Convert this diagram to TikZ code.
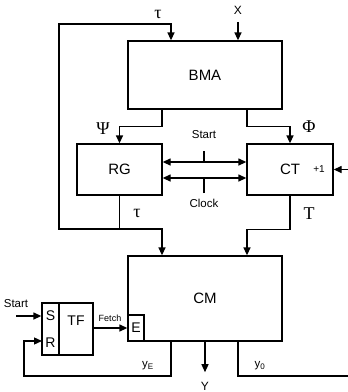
\documentclass[tikz,border=0pt]{standalone}
\usepackage{fontspec}
\setmainfont{Liberation Sans}
\newfontfamily\grk{Liberation Serif}
\usetikzlibrary{arrows.meta}

\begin{document}
\begin{tikzpicture}[x=1pt, y=-1pt, >={Triangle[length=8pt,width=7pt]}, line width=1.3pt,
      blk/.style={draw, inner sep=0pt, font=\fontsize{15}{17}\selectfont},
      lbl/.style={inner sep=1pt, font=\fontsize{11.5}{13}\selectfont},
      gk/.style={inner sep=1pt, font=\grk\fontsize{18}{20}\selectfont}]
  \useasboundingbox (0,0) rectangle (348,392);
  \node[blk, minimum width=154pt, minimum height=68pt] (bma) at (205,75)    {BMA};
  \node[blk, minimum width=85pt,  minimum height=51pt] (rg)  at (119.5,169.5) {RG};
  \node[blk, minimum width=86pt,  minimum height=51pt] (ct)  at (290,169.5) {CT};
  \node[blk, minimum width=154pt, minimum height=85pt] (cm)  at (205,298.5) {CM};
  \node[blk, font=\fontsize{14}{16}\selectfont, minimum width=16pt, minimum height=26pt] (e) at (136,328) {E};
  \node[blk, minimum width=17pt,  minimum height=52pt] (sr)  at (50.5,329)  {};
  \node[blk, minimum width=34pt,  minimum height=52pt] (tf)  at (76,329)    {};
  \node[inner sep=0pt, font=\fontsize{14}{16}\selectfont] (lblS)  at (50.5,316) {S};
  \node[inner sep=0pt, font=\fontsize{14}{16}\selectfont] (lblR)  at (50.5,343) {R};
  \node[inner sep=0pt, font=\fontsize{14}{16}\selectfont] (lblTF) at (76,321)   {TF};
  % labels
  \node[gk] (tauA) at (158,14)  {τ};
  \node[lbl, font=\fontsize{12}{13}\selectfont] (lblX) at (238,10) {X};
  \node[gk] (psi)  at (103,129) {Ψ};
  \node[gk] (phi)  at (309,127) {Φ};
  \node[lbl] (lblStart) at (204,135) {Start};
  \node[lbl] (lblClock) at (204,203) {Clock};
  \node[lbl, font=\fontsize{10}{11}\selectfont] (inc) at (319,169) {+1};
  \node[gk] (tauB) at (137,213) {τ};
  \node[gk] (bigT) at (309,214) {T};
  \node[lbl] (lblStart2) at (16,304) {Start};
  \node[lbl, font=\fontsize{9}{10}\selectfont] (lblFetch) at (110,318) {Fetch};
  \node[lbl] (lblyE) at (148,366) {y\textsubscript{E}};
  \node[lbl] (lblyO) at (260,366) {y\textsubscript{0}};
  \node[lbl, font=\fontsize{12}{13}\selectfont] (lblY) at (205,386) {Y};
  \coordinate (loopL) at (59,24);
  \coordinate (jt)    at (119.5,229);
  \coordinate (stA)   at (204,151);
  \coordinate (ckA)   at (204,193);
  \coordinate (incIn) at (348,169.5);
  \coordinate (sIn)   at (16,316);
  \coordinate (fb)    at (24,376);
  \coordinate (rIn)   at (42,341);
  \coordinate (yo)    at (348,376);
  % connectors
  \draw[->] ([yshift=-6pt]lblX.south) -- ([xshift=33pt]bma.north);
  \draw[->] ([xshift=-43pt]bma.south) -- ++(0,17) -| (rg.north);
  \draw[->] ([xshift=42pt]bma.south) -- ++(0,17) -| (ct.north);
  \draw[<->] ([yshift=7.5pt]rg.east) -- ([yshift=7.5pt]ct.west);
  \draw[<->] ([yshift=-8.5pt]rg.east) -- ([yshift=-8.5pt]ct.west);
  \draw (stA) -- ++(0,11);
  \draw (ckA) -- ++(0,-15);
  \draw[->] (incIn) -- (ct.east);
  \draw (rg.south) -- (jt);
  \draw[->] (jt) -| (loopL) -| ([xshift=-34pt]bma.north);
  \draw[->] (jt) -| ([xshift=-43pt]cm.north);
  \draw[->] (ct.south) -- ++(0,34) -| ([xshift=42pt]cm.north);
  \draw[->] (sIn) -- (sIn -| sr.west);
  \draw[->] ([xshift=-34pt]cm.south) |- (fb) |- (rIn);
  \draw[->] (tf.east |- e) -- (e.west);
  \draw[->] (cm.south) -- ([yshift=8pt]lblY.north);
  \draw ([xshift=33pt]cm.south) |- (yo);
\end{tikzpicture}
\end{document}
